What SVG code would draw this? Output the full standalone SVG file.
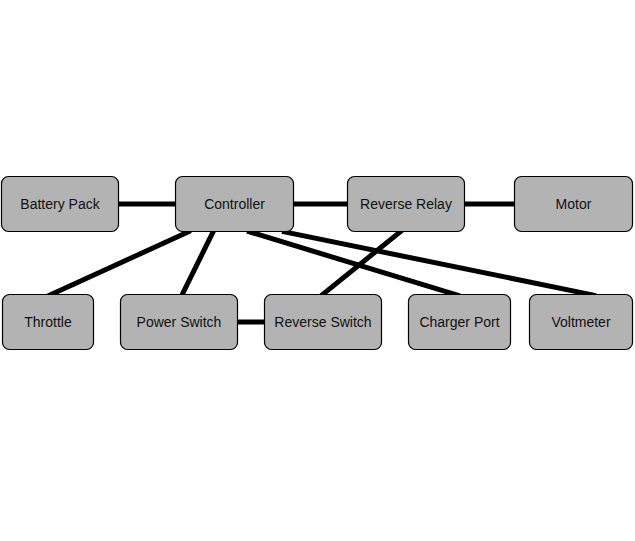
<svg xmlns="http://www.w3.org/2000/svg" width="635" height="541" viewBox="0 0 635 541">
<style>
.node rect{fill:#b3b3b3;stroke:#000;stroke-width:1.2}
.node text{font-family:"Liberation Sans",Arial,sans-serif;font-size:14px;fill:#111;text-anchor:middle;dominant-baseline:central}
#edges line{stroke:#000;stroke-width:5;stroke-linecap:butt}
</style>
<rect width="635" height="541" fill="#fff"/>
<g id="edges">
<line x1="115" y1="204" x2="180" y2="204"/>
<line x1="290" y1="204" x2="351" y2="204"/>
<line x1="460" y1="204" x2="518" y2="204"/>
<line x1="233" y1="322" x2="268" y2="322"/>
<line x1="190.7" y1="230.8" x2="47.3" y2="296.2"/>
<line x1="214.3" y1="229.3" x2="180.7" y2="297.7"/>
<line x1="247.1" y1="231.1" x2="459.9" y2="295.9"/>
<line x1="282" y1="231.4" x2="596" y2="295.6"/>
<line x1="402.3" y1="230.1" x2="319.7" y2="296.9"/>
</g>
<g id="battery" class="node"><rect x="1.5" y="176.5" width="117" height="55" rx="7"/><text x="60" y="204">Battery Pack</text></g>
<g id="controller" class="node"><rect x="175.5" y="176.5" width="118" height="55" rx="7"/><text x="234.5" y="204">Controller</text></g>
<g id="relay" class="node"><rect x="347.5" y="176.5" width="117" height="55" rx="7"/><text x="406" y="204">Reverse Relay</text></g>
<g id="motor" class="node"><rect x="514.5" y="176.5" width="118" height="55" rx="7"/><text x="573.5" y="204">Motor</text></g>
<g id="throttle" class="node"><rect x="2.5" y="294.5" width="91" height="55" rx="7"/><text x="48" y="322">Throttle</text></g>
<g id="power" class="node"><rect x="120.5" y="294.5" width="117" height="55" rx="7"/><text x="179" y="322">Power Switch</text></g>
<g id="revswitch" class="node"><rect x="264.5" y="294.5" width="117" height="55" rx="7"/><text x="323" y="322">Reverse Switch</text></g>
<g id="charger" class="node"><rect x="408.5" y="294.5" width="102" height="55" rx="7"/><text x="459.5" y="322">Charger Port</text></g>
<g id="voltmeter" class="node"><rect x="529.5" y="294.5" width="103" height="55" rx="7"/><text x="581" y="322">Voltmeter</text></g>
</svg>
